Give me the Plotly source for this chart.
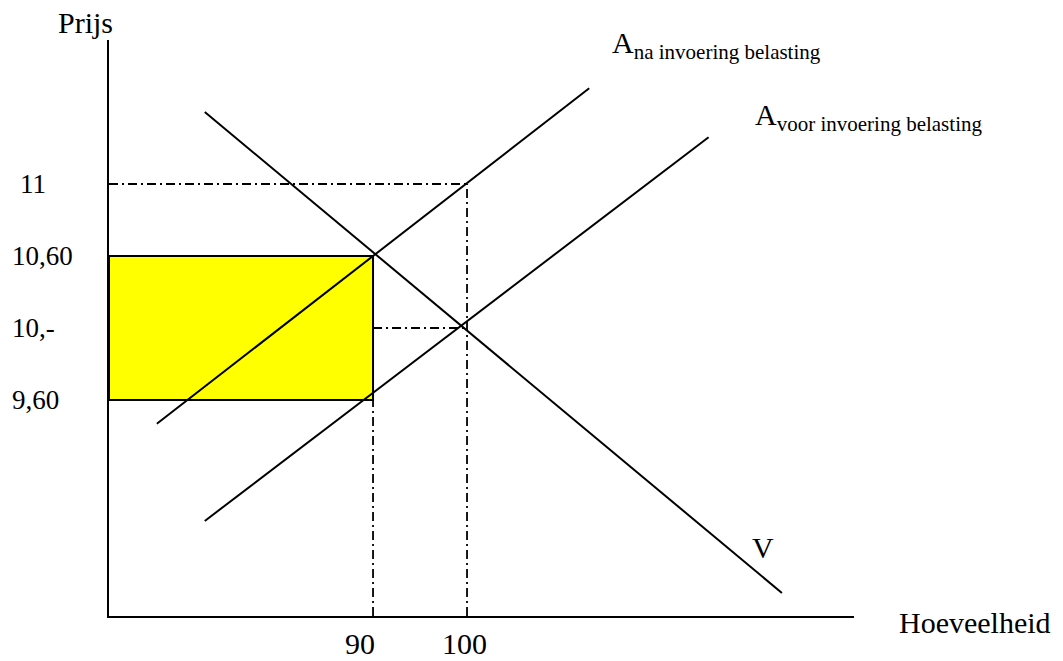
import plotly.graph_objects as go

# schematic price axis: labelled price levels sit on equally spaced steps
price_labels = ["9,60", "10,-", "10,60", "11"]
price_steps = [3, 4, 5, 6]

quantities = [90, 100]
quantity_labels = ["90", "100"]

# curves (quantity, price step)
demand_q = [72.1, 133.5]
demand_p = [7.0, 0.32]
supply_after_q = [67.0, 113.0]
supply_after_p = [2.67, 7.33]
supply_before_q = [72.1, 125.7]
supply_before_p = [1.32, 6.65]

Q_MIN, Q_MAX = 61.91, 141.17
P_MIN, P_MAX = 0, 8

FONT = "Liberation Serif, Times New Roman, serif"
DASHDOT = "9px,4px,2px,4px"

fig = go.Figure()

# tax burden rectangle between 9,60 and 10,60 up to q = 90
q_tax = quantities[0]
p_low, p_high = price_steps[0], price_steps[2]
fig.add_trace(go.Scatter(x=[Q_MIN, q_tax, q_tax, Q_MIN, Q_MIN],
                         y=[p_low, p_low, p_high, p_high, p_low],
                         mode='lines', fill='toself', fillcolor='#FFFF00',
                         line=dict(color='black', width=2)))

# dash-dot guide lines
guides = [
    ([Q_MIN, quantities[1]], [price_steps[3], price_steps[3]]),
    ([quantities[1], quantities[1]], [P_MIN, price_steps[3]]),
    ([quantities[0], quantities[1]], [price_steps[1], price_steps[1]]),
    ([quantities[0], quantities[0]], [P_MIN, price_steps[0]]),
]
for gx, gy in guides:
    fig.add_trace(go.Scatter(x=gx, y=gy, mode='lines',
                             line=dict(color='black', width=1.8, dash=DASHDOT)))

for cx, cy in [(demand_q, demand_p), (supply_after_q, supply_after_p),
               (supply_before_q, supply_before_p)]:
    fig.add_trace(go.Scatter(x=cx, y=cy, mode='lines',
                             line=dict(color='black', width=2)))

big = dict(family=FONT, size=30, color='black')
small = dict(family=FONT, size=27, color='black')

for label, step in zip(price_labels, price_steps):
    fig.add_annotation(x=-0.133, xref='paper', y=step, yref='y', text=label,
                       showarrow=False, xanchor='left', yanchor='middle',
                       xshift=8 if label == "11" else 0, font=small)

for label, q in zip(quantity_labels, quantities):
    fig.add_annotation(x=q, y=0, text=label, showarrow=False,
                       xanchor='center', yanchor='middle',
                       xshift=-13 if q == 90 else -3, yshift=-27, font=big)

fig.add_annotation(x=-0.031, xref='paper', y=1.031, yref='paper', text="Prijs",
                   showarrow=False, xanchor='center', yanchor='middle', font=big)
fig.add_annotation(x=1.0577, xref='paper', y=-0.012, yref='paper', text="Hoeveelheid",
                   showarrow=False, xanchor='left', yanchor='middle', font=big)
fig.add_annotation(x=131.5, y=0.95, text="V", showarrow=False,
                   xanchor='center', yanchor='middle', font=big)
fig.add_annotation(x=115.2, y=7.93, text="A<sub>na invoering belasting</sub>",
                   showarrow=False, xanchor='left', yanchor='middle', font=big)
fig.add_annotation(x=130.4, y=6.93, text="A<sub>voor invoering belasting</sub>",
                   showarrow=False, xanchor='left', yanchor='middle', font=big)

axis_style = dict(showgrid=False, zeroline=False, showline=True, linecolor='black',
                  linewidth=2, showticklabels=False, ticks='', fixedrange=True)
fig.update_xaxes(range=[Q_MIN, Q_MAX], **axis_style)
fig.update_yaxes(range=[P_MIN, P_MAX], **axis_style)

fig.update_layout(width=1063, height=661, showlegend=False,
                  margin=dict(l=109, r=209, t=40, b=45),
                  plot_bgcolor='white', paper_bgcolor='white',
                  font=dict(family=FONT, color='black'))

fig.write_html("out.html", config={'displayModeBar': False},
               post_script="document.body.style.margin='0';"
                           "document.body.style.overflow='hidden';")
